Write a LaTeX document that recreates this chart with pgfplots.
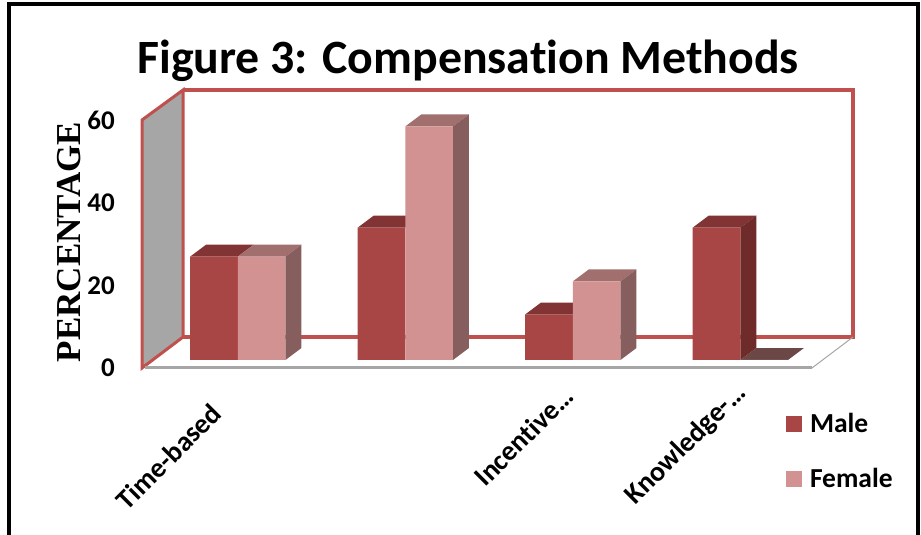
\documentclass[border=0pt]{standalone}
\usepackage{pgfplots}
\pgfplotsset{compat=1.18}
\usepackage{fontspec}
\setmainfont[Ligatures=NoCommon]{Carlito}
\newfontfamily\serifb{Liberation Serif}
\definecolor{mfront}{HTML}{A84645}
\definecolor{mtop}{HTML}{813433}
\definecolor{mside}{HTML}{6E2B2A}
\definecolor{ffront}{HTML}{D29291}
\definecolor{ftop}{HTML}{A06F6E}
\definecolor{fside}{HTML}{865E5D}
\definecolor{fzero}{HTML}{6B4846}
\definecolor{wall}{HTML}{A6A6A6}
\definecolor{frame}{HTML}{C0504D}
\pgfplotsset{
  base/.style={scale only axis, width=670pt, height=248pt, anchor=south west, clip=false,
    xmin=-0.5, xmax=3.5, ymin=0, ymax=60,
    axis line style={draw=none}, tick style={draw=none}},
  face/.style={fill=#1, draw=none, forget plot, mark=none}
}
\begin{document}
\begin{tikzpicture}[x=1pt,y=1pt]
\useasboundingbox (0,0) rectangle (921,535);
% outer border
\draw[black, line width=4.5pt] (9,-5) -- (9,531) -- (918,531) -- (918,-5);
% title and axis title
\node[font=\bfseries\fontsize{47.8}{47.8}\selectfont, anchor=center] at (468,474) {Figure 3: Compensation Methods};
\node[font=\serifb\bfseries\fontsize{35}{35}\selectfont, rotate=90, anchor=center] at (69,293) {PERCENTAGE};
% front plane: wall, floor, value ticks, category labels
\begin{axis}[base, at={(142pt,167pt)},
  ytick={0,20,40,60}, xtick={0,1,2,3}, ytick pos=left, xtick pos=lower,
  xticklabels={Time-based,,Incentive…\kern-24pt,Knowledge-…\kern-30pt},
  /pgf/number format/assume math mode=true,
  yticklabel style={font=\bfseries\fontsize{27}{27}\selectfont, anchor=east, inner sep=0pt, xshift=-27pt},
  xticklabel style={font=\bfseries\fontsize{28}{28}\selectfont, rotate=45, anchor=north east, inner sep=0pt, xshift=-35pt, yshift=-12pt},
]
\addplot[fill=wall, draw=frame, line width=3pt, forget plot] coordinates {(-0.5,0)(-0.255,7.5)(-0.255,67.26)(-0.5,60)} -- cycle;
\addplot[draw=frame, line width=3.5pt, forget plot] coordinates {(-0.255,67.26)(3.745,67.26)(3.745,7.5)(-0.255,7.5)};
\addplot[draw=wall, line width=3pt, forget plot] coordinates {(-0.48,0)(3.5,0)};
\addplot[draw=wall, line width=1pt, forget plot] coordinates {(3.5,0)(3.745,7.5)};
\end{axis}
% depth plane: bars
\begin{axis}[base, at={(154pt,175pt)}, ticks=none,
  legend style={at={(0.943,-0.207)}, anchor=north west, draw=none, fill=none, inner sep=0pt,
    font=\bfseries\fontsize{27.5}{27.5}\selectfont, row sep=30pt, column sep=6pt},
  legend cell align=left,
  legend image code/.code={\fill[#1] (0pt,-8pt) rectangle (16pt,8pt);},
]
% knowledge-based, female: zero height, drawn behind the male bar
\addplot[face=fzero] coordinates {(3,0)(3.0955,2.9)(3.3803,2.9)(3.2848,0)} -- cycle;
% tops of male bars
\addplot[face=mtop] coordinates {(-0.2848,25)(-0.1893,27.9)(0.0955,27.9)(0,25)} -- cycle;
\addplot[face=mtop] coordinates {(0.7152,32)(0.8107,34.9)(1.0955,34.9)(1,32)} -- cycle;
\addplot[face=mtop] coordinates {(1.7152,11)(1.8107,13.9)(2.0955,13.9)(2,11)} -- cycle;
\addplot[face=mtop] coordinates {(2.7152,32)(2.8107,34.9)(3.0955,34.9)(3,32)} -- cycle;
\addplot[face=mside] coordinates {(3,0)(3.0955,2.9)(3.0955,34.9)(3,32)} -- cycle;
% tops and sides of female bars
\addplot[face=ftop] coordinates {(0,25)(0.0955,27.9)(0.3803,27.9)(0.2848,25)} -- cycle;
\addplot[face=fside] coordinates {(0.2848,0)(0.3803,2.9)(0.3803,27.9)(0.2848,25)} -- cycle;
\addplot[face=ftop] coordinates {(1,56.5)(1.0955,59.4)(1.3803,59.4)(1.2848,56.5)} -- cycle;
\addplot[face=fside] coordinates {(1.2848,0)(1.3803,2.9)(1.3803,59.4)(1.2848,56.5)} -- cycle;
\addplot[face=ftop] coordinates {(2,19)(2.0955,21.9)(2.3803,21.9)(2.2848,19)} -- cycle;
\addplot[face=fside] coordinates {(2.2848,0)(2.3803,2.9)(2.3803,21.9)(2.2848,19)} -- cycle;
% front faces
\addplot[ybar, bar width=47.7pt, bar shift=-23.85pt, fill=mfront, draw=none] coordinates {(0,25)(1,32)(2,11)(3,32)};
\addlegendentry{Male}
\addplot[ybar, bar width=47.7pt, bar shift=23.85pt, fill=ffront, draw=none] coordinates {(0,25)(1,56.5)(2,19)(3,0)};
\addlegendentry{Female}
\end{axis}
\end{tikzpicture}
\end{document}
